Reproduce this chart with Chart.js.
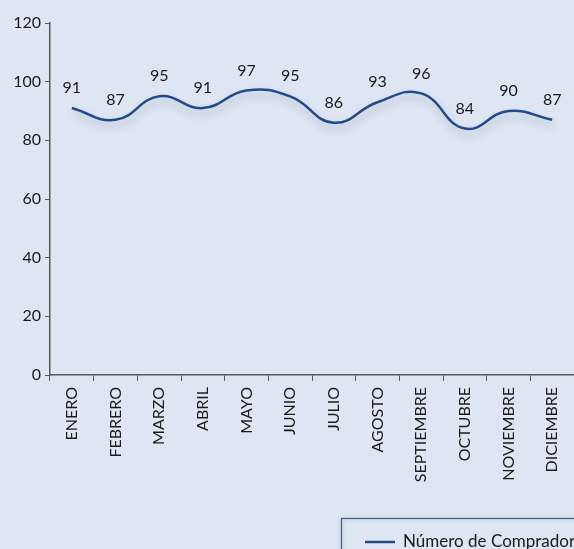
<!DOCTYPE html>
<html>
<head>
<meta charset="utf-8">
<script src="https://cdn.jsdelivr.net/npm/chart.js@4/dist/chart.umd.min.js"></script>
<style>
  html, body { margin:0; padding:0; background:#DEE6F3; overflow:hidden; }
  #wrap { position:relative; width:640px; height:549px; }
</style>
</head>
<body>
<div id="wrap"><canvas id="c" width="640" height="549"></canvas></div>
<script>
const categories = ['ENERO','FEBRERO','MARZO','ABRIL','MAYO','JUNIO','JULIO','AGOSTO','SEPTIEMBRE','OCTUBRE','NOVIEMBRE','DICIEMBRE'];
const compradores = [91, 87, 95, 91, 97, 95, 86, 93, 96, 84, 90, 87];
const seriesName = 'Número de Compradores';
const yTicks = [0, 20, 40, 60, 80, 100, 120];

const FONT = 'Lato, "Open Sans", sans-serif';
const XFONT = 'Lato, "Open Sans", sans-serif';
const LINE = '#214B89';

const shadowPlugin = {
  id: 'lineShadow',
  beforeDatasetDraw(chart) {
    const ctx = chart.ctx;
    ctx.save();
    ctx.shadowColor = 'rgba(40,50,70,0.28)';
    ctx.shadowBlur = 8;
    ctx.shadowOffsetX = 1;
    ctx.shadowOffsetY = 5;
  },
  afterDatasetDraw(chart) { chart.ctx.restore(); }
};

const labelPlugin = {
  id: 'valueLabels',
  afterDatasetsDraw(chart) {
    const ctx = chart.ctx;
    const meta = chart.getDatasetMeta(0);
    const data = chart.data.datasets[0].data;
    ctx.save();
    ctx.font = '16px ' + FONT;
    ctx.fillStyle = '#1a1a1a';
    ctx.textAlign = 'center';
    ctx.textBaseline = 'middle';
    meta.data.forEach((pt, i) => {
      ctx.fillText(String(data[i]), pt.x, pt.y - 20);
    });
    ctx.restore();
  }
};

const legendPlugin = {
  id: 'boxLegend',
  afterDraw(chart) {
    const ctx = chart.ctx;
    ctx.save();
    ctx.shadowColor = 'rgba(0,0,0,0.25)';
    ctx.shadowBlur = 4;
    ctx.strokeStyle = '#3F5E8E';
    ctx.lineWidth = 1.2;
    ctx.strokeRect(341.5, 518.5, 330, 60);
    ctx.shadowColor = 'transparent';
    ctx.strokeStyle = LINE;
    ctx.lineWidth = 2.5;
    ctx.beginPath();
    ctx.moveTo(365, 542);
    ctx.lineTo(395, 542);
    ctx.stroke();
    ctx.font = '17px ' + FONT;
    ctx.fillStyle = '#1a1a1a';
    ctx.textBaseline = 'middle';
    ctx.fillText(chart.data.datasets[0].label, 403, 542);
    ctx.restore();
  }
};

new Chart(document.getElementById('c'), {
  type: 'line',
  data: {
    labels: categories,
    datasets: [{
      label: seriesName,
      data: compradores,
      borderColor: LINE,
      borderWidth: 2.5,
      pointRadius: 0,
      tension: 0.45,
      fill: false
    }]
  },
  options: {
    responsive: false,
    animation: false,
    layout: { padding: { top: 23, right: 66, left: 0, bottom: 0 } },
    plugins: { legend: { display: false }, tooltip: { enabled: false } },
    scales: {
      x: {
        offset: true,
        grid: { drawOnChartArea: false, drawTicks: true, tickLength: 6, color: '#595959', offset: true },
        border: { color: '#595959', width: 1.5 },
        ticks: { minRotation: 90, maxRotation: 90, autoSkip: false, padding: 6, color: '#1a1a1a', font: { family: XFONT, size: 16 } },
        afterFit(s) { s.height = 174; }
      },
      y: {
        min: 0, max: 120,
        afterBuildTicks(s) { s.ticks = yTicks.map(v => ({ value: v })); },
        grid: { drawOnChartArea: false, drawTicks: true, tickLength: 5, color: '#595959' },
        border: { color: '#595959', width: 1.5 },
        ticks: { padding: 4, color: '#1a1a1a', font: { family: FONT, size: 16 } },
        afterFit(s) { s.width = 50; }
      }
    }
  },
  plugins: [shadowPlugin, labelPlugin, legendPlugin]
});
</script>
</body>
</html>
